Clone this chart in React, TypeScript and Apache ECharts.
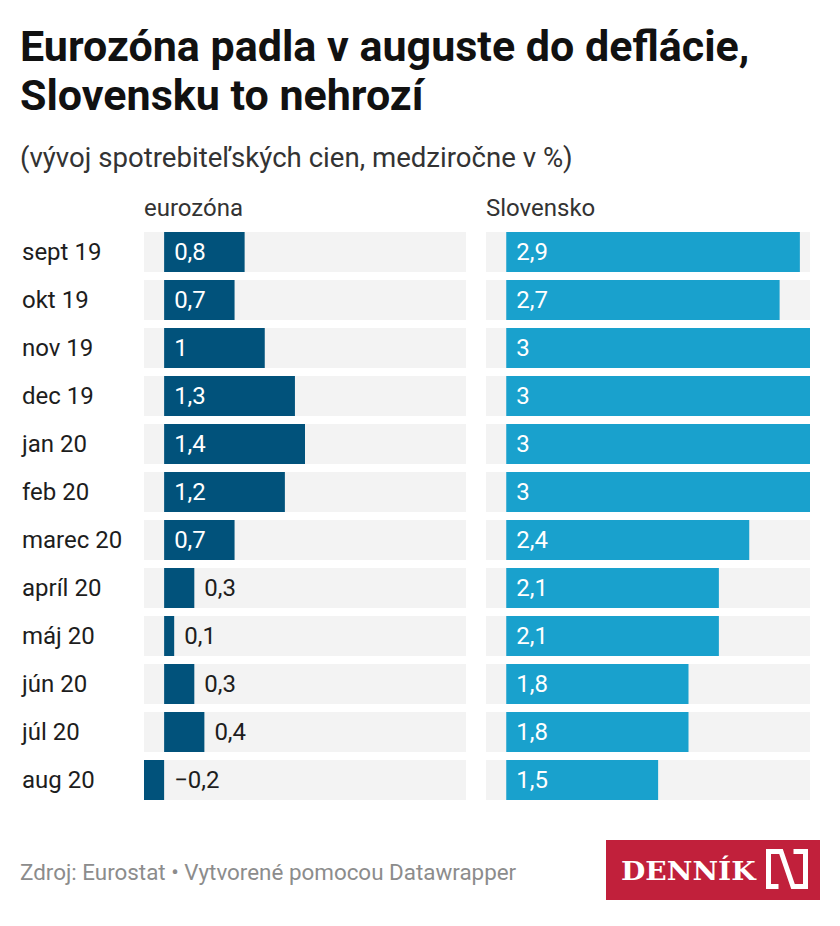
import React, { useEffect, useRef } from "react";
import * as echarts from "echarts";

const titleLines = ["Eurozóna padla v auguste do deflácie,", "Slovensku to nehrozí"];
const subtitle = "(vývoj spotrebiteľských cien, medziročne v %)";
const panelTitles = ["eurozóna", "Slovensko"];
const categories = [
  "sept 19", "okt 19", "nov 19", "dec 19", "jan 20", "feb 20",
  "marec 20", "apríl 20", "máj 20", "jún 20", "júl 20", "aug 20",
];
const eurozone = [0.8, 0.7, 1, 1.3, 1.4, 1.2, 0.7, 0.3, 0.1, 0.3, 0.4, -0.2];
const slovakia = [2.9, 2.7, 3, 3, 3, 3, 2.4, 2.1, 2.1, 1.8, 1.8, 1.5];
const axisMin = -0.2;
const axisMax = 3;
const footer = "Zdroj: Eurostat • Vytvorené pomocou Datawrapper";
const logoText = "DENNÍK";

const FONT = "Roboto, 'Noto Sans', sans-serif";
const COLORS = ["#01527b", "#19a1cd"];

const fmt = (v: number) => (v < 0 ? "\u2212" : "") + String(Math.abs(v)).replace(".", ",");

function labelSeries(values: number[], idx: number) {
  return {
    type: "custom",
    xAxisIndex: idx,
    yAxisIndex: idx,
    silent: true,
    z: 5,
    data: values.map((v, i) => [v, i]),
    renderItem: (params: any, api: any) => {
      const v = values[params.dataIndex];
      const i = params.dataIndex;
      const zero = api.coord([0, i]);
      const end = api.coord([v, i]);
      const barW = Math.abs(end[0] - zero[0]);
      const text = fmt(v);
      const tw = text.length * 12;
      const inside = v > 0 && barW >= tw + 24;
      const x = inside ? zero[0] + 10 : Math.max(zero[0], end[0]) + 10;
      return {
        type: "text",
        x,
        y: zero[1],
        style: {
          text,
          fill: inside ? "#ffffff" : "#1d1d1d",
          font: `400 24px ${FONT}`,
          align: "left",
          verticalAlign: "middle",
        },
      };
    },
  };
}

export default function App() {
  const ref = useRef<HTMLDivElement>(null);
  useEffect(() => {
    if (!ref.current) return;
    const chart = echarts.init(ref.current, undefined, { renderer: "svg" });
    const gridTop = 228;
    const rowH = 48;
    const gridH = rowH * categories.length;
    const option: any = {
      animation: false,
      backgroundColor: "#ffffff",
      grid: [
        { left: 144, top: gridTop, width: 322, height: gridH },
        { left: 486, top: gridTop, width: 324, height: gridH },
      ],
      xAxis: [0, 1].map((g) => ({
        type: "value",
        gridIndex: g,
        min: axisMin,
        max: axisMax,
        show: false,
        splitLine: { show: false },
      })),
      yAxis: [0, 1].map((g) => ({
        type: "category",
        gridIndex: g,
        data: categories,
        inverse: true,
        axisLine: { show: false },
        axisTick: { show: false },
        splitLine: { show: false },
        axisLabel: {
          show: g === 0,
          align: "left",
          margin: 122,
          fontSize: 24,
          fontFamily: FONT,
          color: "#1d1d1d",
        },
      })),
      series: [
        {
          type: "bar",
          xAxisIndex: 0,
          yAxisIndex: 0,
          data: eurozone,
          barWidth: 40,
          showBackground: true,
          backgroundStyle: { color: "#f3f3f3" },
          itemStyle: { color: COLORS[0] },
          silent: true,
        },
        {
          type: "bar",
          xAxisIndex: 1,
          yAxisIndex: 1,
          data: slovakia,
          barWidth: 40,
          showBackground: true,
          backgroundStyle: { color: "#f3f3f3" },
          itemStyle: { color: COLORS[1] },
          silent: true,
        },
        labelSeries(eurozone, 0),
        labelSeries(slovakia, 1),
      ],
      graphic: [
        {
          type: "text",
          left: 20,
          top: 24,
          style: { text: titleLines[0], font: `700 43px ${FONT}`, fill: "#111111" },
        },
        {
          type: "text",
          left: 20,
          top: 73,
          style: { text: titleLines[1], font: `700 43px ${FONT}`, fill: "#111111" },
        },
        {
          type: "text",
          x: 20,
          y: 157,
          style: { text: subtitle, font: `400 27.6px ${FONT}`, fill: "#333333", verticalAlign: "middle" },
        },
        {
          type: "text",
          x: 144,
          y: 208,
          style: { text: panelTitles[0], font: `400 24px ${FONT}`, fill: "#333333", verticalAlign: "middle" },
        },
        {
          type: "text",
          x: 486,
          y: 208,
          style: { text: panelTitles[1], font: `400 24px ${FONT}`, fill: "#333333", verticalAlign: "middle" },
        },
        {
          type: "text",
          x: 20,
          y: 872,
          style: { text: footer, font: `400 22.4px ${FONT}`, fill: "#8c8c8c", verticalAlign: "middle" },
        },
        {
          type: "group",
          x: 606,
          y: 840,
          children: [
            { type: "rect", shape: { x: 0, y: 0, width: 214, height: 60 }, style: { fill: "#c1203b" } },
            {
              type: "text",
              x: 15,
              y: 31,
              scaleX: 1.08,
              style: {
                text: logoText,
                font: `700 26px 'DejaVu Serif', serif`,
                fill: "#ffffff",
                verticalAlign: "middle",
              },
            },
            {
              type: "polyline",
              shape: {
                points: [
                  [172.5, 46.5], [162.5, 46.5], [162.5, 11.5], [175, 11.5],
                  [187, 46.5], [199.5, 46.5], [199.5, 11.5], [187.5, 11.5],
                ],
              },
              style: { stroke: "#ffffff", lineWidth: 5, fill: "none", lineJoin: "miter" },
            },
          ],
        },
      ],
    };
    chart.setOption(option);
    return () => chart.dispose();
  }, []);
  return (
    <div
      ref={ref}
      style={{ position: "absolute", left: 0, top: 0, width: 840, height: 926 }}
    />
  );
}
